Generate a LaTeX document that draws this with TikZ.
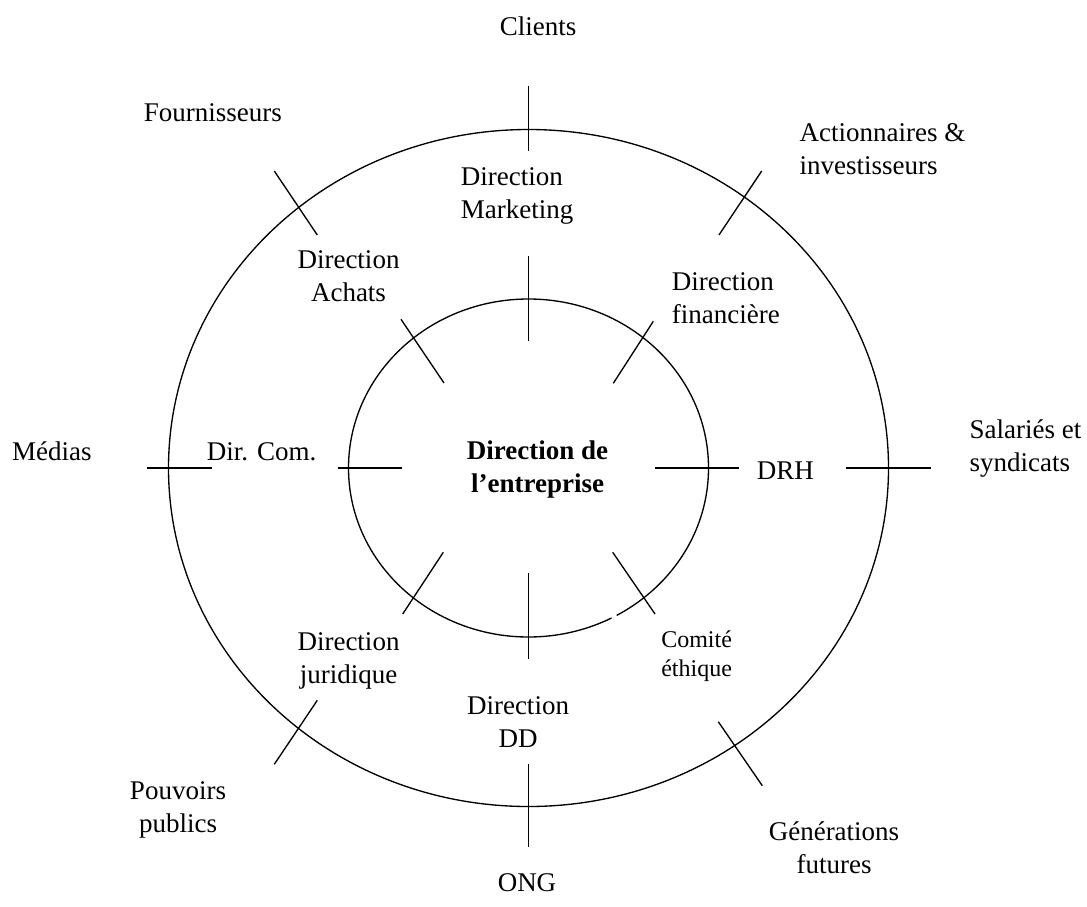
\documentclass[tikz,border=0pt]{standalone}
\usepackage{fontspec}
\setmainfont{Liberation Serif}
\begin{document}
\begin{tikzpicture}[x=0.75pt,y=-0.75pt,
  ring/.style={line width=1pt},
  tick/.style={line width=1pt},
  lbl/.style={inner sep=0pt, font=\fontsize{20.25}{24.75}\selectfont},
  small/.style={inner sep=0pt, font=\fontsize{18}{22}\selectfont},
]
\useasboundingbox (0,0) rectangle (1087,906);
\coordinate (c) at (528.5,468);
\draw[ring] (c) ellipse [x radius=360, y radius=338.5];
\draw[ring] (c) ellipse [x radius=180, y radius=169];
\draw[white, line width=2pt] (611.5,617.6) -- (616.7,615.8);
% vertical ticks
\draw[tick] (528.5,86) -- (528.5,151);
\draw[tick] (528.5,256) -- (528.5,341);
\draw[tick] (528.5,573) -- (528.5,659);
\draw[tick] (528.5,764) -- (528.5,847);
% horizontal ticks
\draw[tick] (146.7,468) -- (211.7,468);
\draw[tick] (337.7,468) -- (401.7,468);
\draw[tick] (655,468) -- (739,468);
\draw[tick] (845.7,468) -- (930.7,468);
% diagonal ticks
\draw[tick] (274.3,171) -- (317.3,235);
\draw[tick] (401,319.3) -- (444,383);
\draw[tick] (761.7,171) -- (719,235);
\draw[tick] (653.3,321.3) -- (613.3,383.3);
\draw[tick] (443.3,552.3) -- (402.7,614);
\draw[tick] (317.3,700.3) -- (274.3,764.3);
\draw[tick] (612.7,552.3) -- (655,614);
\draw[tick] (718.3,721.7) -- (762.3,785.7);
% labels
\node[lbl, anchor=base] (clients) at (538,36) {Clients};
\node[lbl, anchor=base west] (fourn) at (143.5,121) {Fournisseurs};
\node[lbl, anchor=north west, align=left] (action) at (799.3,118.6) {Actionnaires \&\strut\\investisseurs\strut};
\node[lbl, anchor=north west, align=left] (mkt) at (460.7,161.9) {Direction\strut\\Marketing\strut};
\node[lbl, anchor=north, align=center] (achats) at (348.5,245.2) {Direction\strut\\Achats\strut};
\node[lbl, anchor=north west, align=left] (fin) at (671.7,266.9) {Direction\strut\\financière\strut};
\node[lbl, anchor=north, align=center, font=\fontsize{20.25}{24.75}\selectfont\bfseries] (dir) at (537.5,436.2) {Direction de\strut\\l’entreprise\strut};
\node[lbl, anchor=base west] (com) at (206.7,460) {Dir. Com.};
\node[lbl, anchor=base west] (drh) at (756.7,479.3) {DRH};
\node[lbl, anchor=base west] (medias) at (11.8,460) {Médias};
\node[lbl, anchor=north west, align=left] (sal) at (969.3,415.2) {Salariés et\strut\\syndicats\strut};
\node[lbl, anchor=north, align=center] (jur) at (348.5,626.9) {Direction\strut\\juridique\strut};
\node[small, anchor=north west, align=left] (eth) at (661,626.2) {Comité\strut\\éthique\strut};
\node[lbl, anchor=north, align=center] (dd) at (518,690.9) {Direction\strut\\DD\strut};
\node[lbl, anchor=north, align=center] (pouv) at (178,775.9) {Pouvoirs\strut\\publics\strut};
\node[lbl, anchor=north, align=center] (gen) at (834,816.9) {Générations\strut\\futures\strut};
\node[lbl, anchor=base] (ong) at (527,891) {ONG};
\end{tikzpicture}
\end{document}
